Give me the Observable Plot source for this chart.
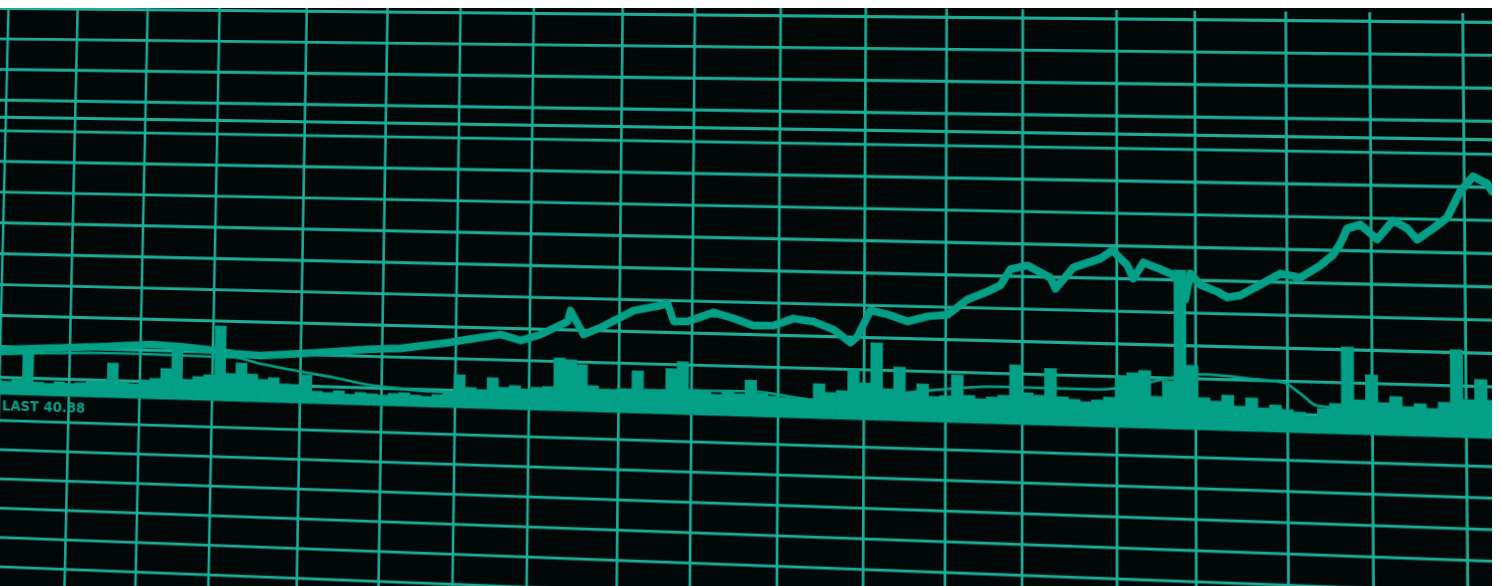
<!DOCTYPE html>
<html><head><meta charset="utf-8">
<script src="https://cdn.jsdelivr.net/npm/d3@7"></script>
<script src="https://cdn.jsdelivr.net/npm/@observablehq/plot@0.6"></script>
<style>
html,body{margin:0;padding:0;background:#fff;}
#page{position:relative;width:1501px;height:586px;overflow:hidden;background:#fff;}
#screen{position:absolute;left:0;top:8px;width:1492px;height:578px;overflow:hidden;background:#020707;}
#warp{position:absolute;left:0;top:-8px;width:1501px;height:586px;transform-origin:0 0;filter:blur(0.55px);}
#warp svg{position:absolute;left:0;top:0;overflow:visible;}
</style></head><body>
<div id="page"><div id="screen"><div id="warp"></div></div></div>
<script>
// ---------- data ----------
const dayMax = 400.27;                       // trading days across the screen
const priceTicks = [200,190,180,170,160,150,140,130,120,110,100,90,80];
const refLevel = 164.4;                      // extra horizontal level line
const gridDays = [2.3,22.1,42.0,62.3,86.7,109.1,129.2,149.2,173.3,192.7,215.6,238.1,259.3,279.1,303.3,323.3,346.4,367.5,390.7];
const lowerLevels = [85,70,55,40,25,10];     // lower panel grid

const priceDay = [0,2.4,30.7,44.8,53.2,60.8,68.1,75.6,86.6,95.7,105.1,114.1,126.9,134.0,141.3,146.8,152.1,159.4,160.1,163.7,168.3,177.1,184.3,186.1,187.8,191.5,198.4,203.7,209.0,214.3,219.5,224.8,230.1,234.5,236.3,239.7,244.2,249.4,254.6,259.8,264.9,270.1,273.4,276.0,280.4,286.3,287.6,292.2,299.1,302.2,306.0,307.5,310.1,314.4,319.5,320.7,322.0,324.5,328.8,331.3,334.6,339.7,344.7,349.7,354.7,358.0,359.8,361.5,364.8,369.0,373.0,376.5,378.9,382.9,386.4,389.7,392.9,396.4,397.6,400.3];
const priceValue = [89.0,89.0,90.8,91.9,91.5,90.8,89.7,89.3,90.3,91.2,92.2,92.8,95.0,96.5,98.0,96.3,98.3,102.6,106.1,98.7,101.0,106.6,108.4,109.1,103.5,103.6,106.6,104.9,102.8,103.0,105.3,104.5,102.2,98.3,100.2,108.4,107.3,105.3,107.0,107.7,112.5,115.1,117.1,122.1,123.4,119.8,116.5,123.1,126.0,128.6,124.1,120.1,125.1,123.1,120.7,114.1,122.0,118.7,116.7,115.0,115.7,119.1,122.6,121.5,125.3,128.7,132.1,136.7,138.0,133.6,139.4,137.1,133.8,137.2,140.6,148.6,153.2,151.1,148.7,148.0];

const volStep = 3;                            // days per volume bar
const volValue = [2.8,2.6,3.0,8.6,2.6,2.4,2.8,2.5,2.7,3.0,
 3.2,6.8,3.0,2.8,3.6,4.0,6.0,10.0,4.0,4.6,
 5.0,14.7,5.4,7.5,5.4,4.4,4.8,3.6,3.4,5.5,
 2.4,2.2,2.6,2.0,2.4,2.2,2.0,2.4,2.6,2.2,
 2.0,2.4,3.0,6.4,4.0,3.6,6.0,4.2,4.6,4.0,
 4.4,4.6,10.2,9.9,9.0,5.0,4.4,4.0,4.6,8.1,
 4.6,4.4,8.7,10.1,4.8,4.4,4.0,4.6,4.2,6.9,
 4.4,4.0,3.8,3.6,3.4,6.6,5.0,5.4,9.6,7.0,
 14.7,6.0,10.2,5.4,7.1,4.8,5.0,9.0,5.2,4.6,
 5.0,5.4,11.2,6.0,5.6,10.7,5.4,5.0,4.6,5.0,
 5.6,9.6,10.3,10.8,6.0,9.0,29.9,12.0,6.0,5.4,
 6.6,4.6,6.2,4.4,5.0,4.2,3.8,3.0,4.6,5.6,
 16.2,6.4,11.1,6.0,7.2,5.4,6.0,5.2,6.4,16.2,
 7.0,10.8,7.0,6.4];

const maDay = [0,36.4,68.1,75.6,86.7,95.9,105.2,114.3,123.3,136.1,166.6,186.3,209.1,218.9,226,247,273,298,325.7,337.1,345.3,349.6,353.8,364.5,400.3];
const maValue = [8.0,8.9,8.7,7.6,6.3,5.3,4.1,3.5,3.1,3.0,4.2,4.6,4.9,4.1,3.6,5.3,7.1,7.1,10.5,9.9,9.4,7.4,5.2,4.7,5.0];

const lastLabel = "LAST 40.88";

// ---------- build ----------
const W = 1501, H = 586;
const GRID = "#1eae98", INK = "#03a087";
const price = priceDay.map((d, i) => ({day: d, value: priceValue[i]}));
const volume = volValue.map((v, i) => ({d0: i * volStep, d1: (i + 1) * volStep, vol: v}));
const ma = maDay.map((d, i) => ({day: d, value: maValue[i]}));

const common = {width: W, height: H, margin: 0, style: {background: "transparent", overflow: "visible"}};
const xScale = {domain: [0, dayMax], axis: null};

const lowerPlot = Plot.plot({...common, x: xScale,
  y: {domain: [0, 100], range: [H, 392.6], axis: null},
  marks: [Plot.ruleY(lowerLevels, {stroke: GRID, strokeWidth: 2.9})]});

const pricePlot = Plot.plot({...common, x: xScale,
  y: {domain: [12.94, 202.59], axis: null},
  marks: [
    Plot.ruleY(priceTicks, {stroke: GRID, strokeWidth: 2.9}),
    Plot.ruleY([refLevel], {stroke: GRID, strokeWidth: 2.9}),
    Plot.ruleX(gridDays, {stroke: GRID, strokeWidth: 2.6}),
    Plot.line(price, {x: "day", y: "value", stroke: INK, strokeWidth: 7.5, strokeLinejoin: "round", strokeLinecap: "round"})
  ]});

const volPlot = Plot.plot({...common, x: xScale,
  y: {domain: [-38, 79.2], axis: null},
  marks: [
    Plot.rectY(volume, {x1: "d0", x2: "d1", y: "vol", fill: INK, stroke: INK, strokeWidth: 0.8, inset: 0}),
    Plot.line(ma, {x: "day", y: "value", stroke: INK, strokeWidth: 2.6, curve: "monotone-x"}),
    Plot.text([lastLabel], {x: 0, y: -2.2, text: d => d, textAnchor: "start", dx: 12, fill: INK,
      fontSize: 14, fontWeight: "bold", fontFamily: "DejaVu Sans"})
  ]});

const warp = document.getElementById("warp");
[lowerPlot, pricePlot, volPlot].forEach(s => warp.appendChild(s));

// ---------- perspective of the photographed screen ----------
function homography(src, dst) {
  const A = [], b = [];
  for (let i = 0; i < 4; i++) {
    const [x, y] = src[i], [X, Y] = dst[i];
    A.push([x, y, 1, 0, 0, 0, -x * X, -y * X]); b.push(X);
    A.push([0, 0, 0, x, y, 1, -x * Y, -y * Y]); b.push(Y);
  }
  const n = 8;
  for (let c = 0; c < n; c++) {
    let p = c;
    for (let r = c + 1; r < n; r++) if (Math.abs(A[r][c]) > Math.abs(A[p][c])) p = r;
    [A[c], A[p]] = [A[p], A[c]]; [b[c], b[p]] = [b[p], b[c]];
    for (let r = 0; r < n; r++) {
      if (r === c) continue;
      const f = A[r][c] / A[c][c];
      for (let k = c; k < n; k++) A[r][k] -= f * A[c][k];
      b[r] -= f * b[c];
    }
  }
  return b.map((v, i) => v / A[i][i]);
}
const h = homography([[0,0],[W,0],[0,H],[W,H]], [[0.24,0],[1501,13.5],[-14.1,585.4],[1507.1,645.8]]);
warp.style.transform = `matrix3d(${h[0]},${h[3]},0,${h[6]},${h[1]},${h[4]},0,${h[7]},0,0,1,0,${h[2]},${h[5]},0,1)`;
</script>
</body></html>
